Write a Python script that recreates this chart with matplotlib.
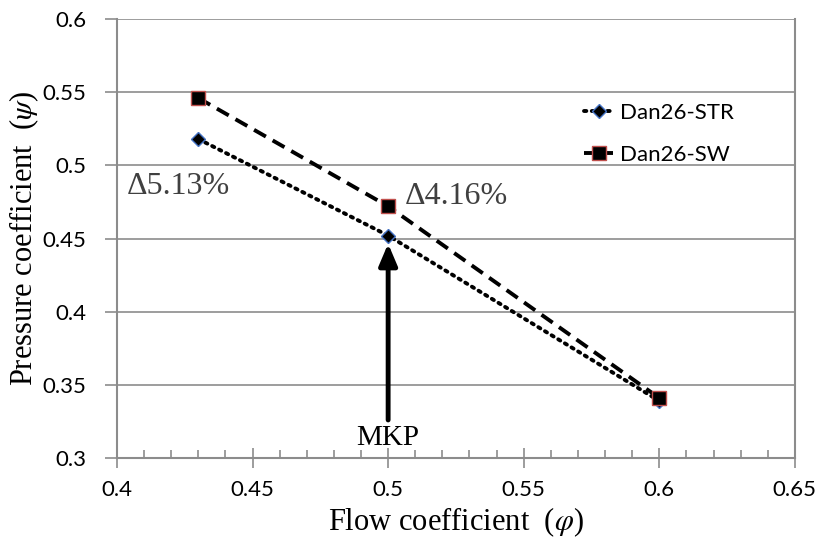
import matplotlib
matplotlib.use("Agg")
import matplotlib.pyplot as plt

plt.rcParams["mathtext.fontset"] = "stix"

# data
flow = [0.43, 0.5, 0.6]
psi_str = [0.518, 0.452, 0.339]
psi_sw = [0.546, 0.472, 0.341]
xticks = [0.4, 0.45, 0.5, 0.55, 0.6, 0.65]
yticks = [0.3, 0.35, 0.4, 0.45, 0.5, 0.55, 0.6]

serif = "Liberation Serif"
sans = "Lato"
grey = "#8c8c8c"

fig = plt.figure(figsize=(8.22, 5.43), dpi=100)
ax = fig.add_axes([0.1423, 0.1565, 0.8247, 0.8085])

ax.plot(flow, psi_str, linestyle=(0, (0.6, 1.4)), dash_capstyle="round", color="black", lw=2.8,
        marker="D", markersize=7, markerfacecolor="black", markeredgecolor="#4472c4",
        markeredgewidth=1, label="Dan26-STR")
ax.plot(flow, psi_sw, linestyle=(0, (3.5, 2)), color="black", lw=2.8,
        marker="s", markersize=10, markerfacecolor="black", markeredgecolor="#c0504d",
        markeredgewidth=1, label="Dan26-SW")

ax.set_xlim(0.4, 0.65)
ax.set_ylim(0.3, 0.6)
ax.set_xticks(xticks)
ax.set_yticks(yticks)
ax.set_xticklabels([f"{v:g}" for v in xticks], fontfamily=sans, fontsize=16)
ax.set_yticklabels([f"{v:g}" for v in yticks], fontfamily=sans, fontsize=16)
ax.set_xticks([0.4 + 0.01 * i for i in range(26)], minor=True)

ax.yaxis.grid(True, color=grey, lw=1.2)
ax.set_axisbelow(True)
for s in ["left", "bottom", "right"]:
    ax.spines[s].set_color(grey)
    ax.spines[s].set_linewidth(1.5)
ax.spines["top"].set_visible(False)
ax.tick_params(axis="y", which="major", direction="out", length=9, width=1.2, color=grey, pad=13)
ax.tick_params(axis="x", which="major", direction="inout", length=14, width=1.2, color=grey, pad=9)
ax.tick_params(axis="x", which="minor", direction="in", length=6, width=1.2, color=grey)

ax.set_xlabel(r"Flow coefficient  ($\varphi$)", fontfamily=serif, fontsize=22, labelpad=4)
ax.set_ylabel(r"Pressure coefficient  ($\psi$)", fontfamily=serif, fontsize=22)
ax.yaxis.set_label_coords(-0.112, 0.5)

ax.text(0.4037, 0.4856, "\u03945.13%", fontfamily=serif, fontsize=23, color="#404040",
        va="center", ha="left")
ax.text(0.5063, 0.4788, "\u03944.16%", fontfamily=serif, fontsize=23, color="#404040",
        va="center", ha="left")
ax.annotate("", xy=(0.5, 0.4465), xytext=(0.5, 0.326),
            arrowprops=dict(arrowstyle="-|>,head_length=1.3,head_width=0.55", color="black",
                            lw=3.5, shrinkA=0, shrinkB=0))
ax.text(0.5, 0.3137, "MKP", fontfamily=serif, fontsize=21, ha="center", va="center")

leg = ax.legend(loc="upper left", bbox_to_anchor=(0.66, 0.855), frameon=False,
                prop={"family": sans, "size": 16}, handlelength=1.3, handletextpad=0.3,
                labelspacing=1.0)

fig.savefig("out.png", dpi=100)
